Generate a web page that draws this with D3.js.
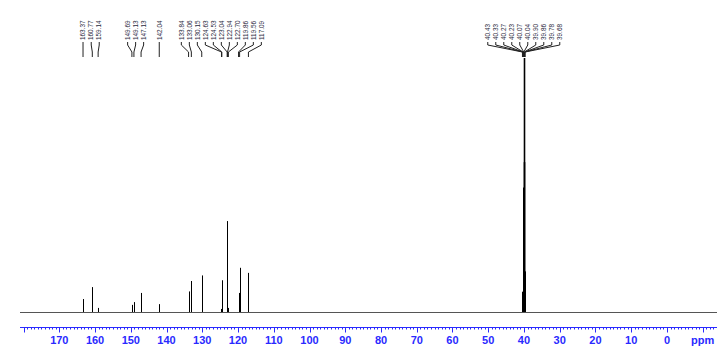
<!DOCTYPE html>
<html><head><meta charset="utf-8">
<script src="https://cdn.jsdelivr.net/npm/d3@7"></script>
<style>body{margin:0;background:#fff}svg{display:block}</style></head>
<body>
<svg id="c" width="727" height="364"></svg>
<script>
// ---- data ----
const peakPpm = [163.37, 160.77, 159.14, 149.69, 149.13, 147.13, 142.04,
  133.84, 133.06, 130.15, 124.63, 124.53, 123.04, 122.94, 122.70, 119.86, 119.56, 117.09,
  40.43, 40.33, 40.27, 40.23, 40.07, 40.04, 39.90, 39.86, 39.78, 39.68];
const peakIntensity = [5.1, 9.8, 1.6, 2.8, 3.9, 7.5, 3.1,
  8.1, 12.2, 14.4, 1.2, 12.5, 35.8, 1.6, 1.2, 7.5, 17.4, 15.4,
  8, 16, 33, 49, 100, 59, 49, 33, 16, 8];
const peakLabels = ["163.37", "160.77", "159.14", "149.69", "149.13", "147.13", "142.04",
  "133.84", "133.06", "130.15", "124.63", "124.53", "123.04", "122.94", "122.70", "119.86", "119.56", "117.09",
  "40.43", "40.33", "40.27", "40.23", "40.07", "40.04", "39.90", "39.86", "39.78", "39.68"];
const majorTicks = [180, 170, 160, 150, 140, 130, 120, 110, 100, 90, 80, 70, 60, 50, 40, 30, 20, 10, 0, -10];
const tickLabels = ["", "170", "160", "150", "140", "130", "120", "110", "100", "90", "80", "70", "60", "50", "40", "30", "20", "10", "0", "ppm"];
const ppmDomain = [181, -14];

// ---- layout ----
const svg = d3.select("#c");
const x = d3.scaleLinear().domain(ppmDomain).range([20, 717]);
const y = d3.scaleLinear().domain([0, 100]).range([312, 58]);
const axisY = 327.5;
const blue = "#2a2aff";

// baseline
svg.append("line")
  .attr("x1", x(ppmDomain[0])).attr("x2", x(ppmDomain[1]))
  .attr("y1", y(0) + 0.5).attr("y2", y(0) + 0.5)
  .attr("stroke", "#555").attr("stroke-width", 1);

// peaks (sticks)
svg.append("g").selectAll("line").data(peakPpm).join("line")
  .attr("x1", d => Math.round(x(d)) + 0.5).attr("x2", d => Math.round(x(d)) + 0.5)
  .attr("y1", y(0)).attr("y2", (d, i) => y(peakIntensity[i]))
  .attr("stroke", "#000").attr("stroke-width", (d, i) => peakIntensity[i] > 50 ? 1.6 : 1);

// label layout (avoid overlap)
const gap = 8;
const items = peakPpm.map((p, i) => ({ px: x(p), label: peakLabels[i] })).sort((a, b) => a.px - b.px);
let groups = items.map(it => ({ items: [it], sum: it.px }));
let changed = true;
function gStart(g) { return g.sum / g.items.length - (g.items.length - 1) * gap / 2; }
function gEnd(g) { return gStart(g) + (g.items.length - 1) * gap; }
while (changed) {
  changed = false;
  for (let i = 0; i < groups.length - 1; i++) {
    if (gStart(groups[i + 1]) - gEnd(groups[i]) < gap) {
      groups[i] = { items: groups[i].items.concat(groups[i + 1].items), sum: groups[i].sum + groups[i + 1].sum };
      groups.splice(i + 1, 1);
      changed = true; break;
    }
  }
}
groups.forEach(g => { const s = gStart(g); g.items.forEach((it, k) => it.lx = s + k * gap); });

const lab = svg.append("g");
lab.selectAll("path").data(items).join("path")
  .attr("d", d => `M${d.lx},42 L${d.lx},45 L${d.px},52 L${d.px},57`)
  .attr("fill", "none").attr("stroke", "#222").attr("stroke-width", 1);
lab.selectAll("text").data(items).join("text")
  .attr("transform", d => `translate(${d.lx},40) rotate(-90)`)
  .attr("dy", "0.35em")
  .attr("font-family", "Liberation Sans, Arial, sans-serif")
  .attr("font-size", 6.4)
  .attr("fill", "#2a2a40")
  .text(d => d.label);

// axis
const minor = d3.range(180, -14, -1);
svg.append("line").attr("x1", x(ppmDomain[0])).attr("x2", x(ppmDomain[1]))
  .attr("y1", axisY).attr("y2", axisY).attr("stroke", blue);
svg.append("g").selectAll("line").data(minor).join("line")
  .attr("x1", d => Math.round(x(d)) + 0.5).attr("x2", d => Math.round(x(d)) + 0.5)
  .attr("y1", axisY).attr("y2", axisY + 2).attr("stroke", blue);
svg.append("g").selectAll("line").data(majorTicks).join("line")
  .attr("x1", d => Math.round(x(d)) + 0.5).attr("x2", d => Math.round(x(d)) + 0.5)
  .attr("y1", axisY).attr("y2", axisY + 5).attr("stroke", blue);
svg.append("g").selectAll("text").data(majorTicks).join("text")
  .attr("x", d => x(d)).attr("y", 344)
  .attr("text-anchor", "middle")
  .attr("font-family", "Liberation Sans, Arial, sans-serif")
  .attr("font-size", 11).attr("font-weight", "bold")
  .attr("fill", blue)
  .text((d, i) => tickLabels[i]);
</script>
</body></html>
